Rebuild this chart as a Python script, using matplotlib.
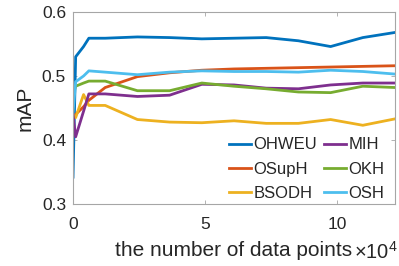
import numpy as np
import matplotlib
matplotlib.use("Agg")
import matplotlib.pyplot as plt

plt.rcParams['font.family'] = ['Liberation Sans', 'DejaVu Sans']
plt.rcParams['mathtext.fontset'] = 'custom'
plt.rcParams['mathtext.rm'] = 'Liberation Sans'

# number of data points
n_points = [0, 1000, 4000, 6000, 12200, 24400, 36600, 48800, 61000,
            73200, 85400, 97600, 109800, 122000]

ohweu = [0.342, 0.530, 0.546, 0.559, 0.559, 0.561, 0.560, 0.558, 0.559,
         0.560, 0.555, 0.546, 0.560, 0.568]
osuph = [0.435, 0.440, 0.452, 0.462, 0.482, 0.499, 0.505, 0.509, 0.511,
         0.512, 0.513, 0.514, 0.515, 0.516]
bsodh = [0.440, 0.435, 0.471, 0.454, 0.454, 0.432, 0.428, 0.427, 0.430,
         0.426, 0.426, 0.432, 0.423, 0.433]
mih = [0.440, 0.405, 0.445, 0.472, 0.472, 0.468, 0.470, 0.487, 0.486,
       0.481, 0.480, 0.486, 0.489, 0.489]
okh = [0.471, 0.484, 0.489, 0.492, 0.492, 0.477, 0.477, 0.489, 0.484,
       0.480, 0.475, 0.474, 0.484, 0.482]
osh = [0.443, 0.491, 0.500, 0.508, 0.506, 0.502, 0.506, 0.508, 0.507,
       0.507, 0.506, 0.509, 0.507, 0.503]

names = ['OHWEU', 'OSupH', 'BSODH', 'MIH', 'OKH', 'OSH']
series = [ohweu, osuph, bsodh, mih, okh, osh]
colors = ['#0072BD', '#D95319', '#EDB120', '#7E2F8E', '#77AC30', '#4DBEEE']

fig = plt.figure(figsize=(3.99, 2.66), dpi=100)
ax = fig.add_axes([0.183, 0.233, 0.807, 0.722])

x = np.array(n_points) / 1e4
for ys, nm, c in zip(series, names, colors):
    ax.plot(x, ys, color=c, lw=2.0, label=nm)

ax.set_xlim(0, 12.2)
ax.set_ylim(0.3, 0.6)
ax.set_xticks([0, 5, 10])
ax.set_yticks([0.3, 0.4, 0.5, 0.6])
ax.set_yticklabels(['0.3', '0.4', '0.5', '0.6'])

for s in ax.spines.values():
    s.set_color('#a6a6a6')
    s.set_linewidth(0.8)
ax.tick_params(direction='in', length=3, width=0.6, color='#a6a6a6',
               top=True, right=True, labelsize=12.5, labelcolor='#262626')
ax.tick_params(axis='x', pad=9)
ax.tick_params(axis='y', pad=5)

ax.set_ylabel('mAP', fontsize=15, color='#262626', labelpad=5)
ax.set_xlabel('the number of data points', fontsize=15, color='#262626', labelpad=7)
fig.text(0.888, 0.028, r'$\times10^4$', ha='left', va='baseline',
         fontsize=14.5, color='#262626')

leg = ax.legend(ncol=2, loc='lower right', bbox_to_anchor=(0.978, 0.0),
                fontsize=12, frameon=False,
                handlelength=1.3, handletextpad=0.15, columnspacing=0.45,
                labelspacing=0.55, borderaxespad=0.1, borderpad=0.1)
for t in leg.get_texts():
    t.set_color('#262626')

fig.savefig('out.png', dpi=100)
